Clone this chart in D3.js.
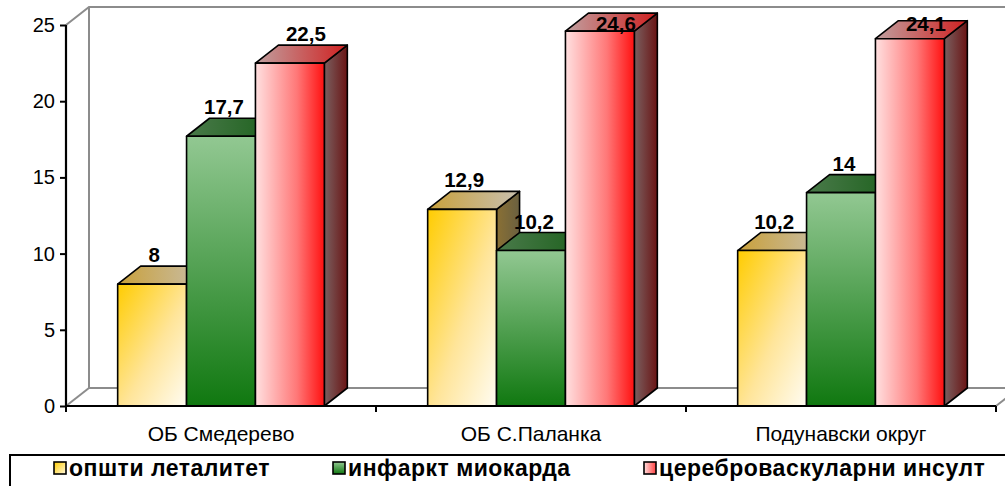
<!DOCTYPE html>
<html>
<head>
<meta charset="utf-8">
<script src="https://cdn.jsdelivr.net/npm/d3@7"></script>
<style>
  html, body { margin: 0; padding: 0; background: #fff; }
  svg { display: block; font-family: "Liberation Sans", Arial, sans-serif; }
</style>
</head>
<body>
<svg id="chart" width="1005" height="486"></svg>
<script>
// Categories, series and axis ticks
const categories = ["ОБ Смедерево", "ОБ С.Паланка", "Подунавски округ"];
const seriesNames = ["општи леталитет", "инфаркт миокарда", "цереброваскуларни инсулт"];
const opstiLetalitet = [8, 12.9, 10.2];
const infarktMiokarda = [17.7, 10.2, 14];
const cerebrovaskularniInsult = [22.5, 24.6, 24.1];
const yTicks = [0, 5, 10, 15, 20, 25];

const seriesValues = [opstiLetalitet, infarktMiokarda, cerebrovaskularniInsult];

const svg = d3.select("#chart");
const defs = svg.append("defs");

// Plot geometry
const plotLeft = 66, plotRight = 996, plotBase = 406, plotTop = 25;
const dx = 23, dy = 18; // depth of the 3D projection

const x0 = d3.scaleBand().domain(categories).range([plotLeft, plotRight]);
const x1 = d3.scaleBand().domain(d3.range(seriesNames.length))
  .range([0, x0.bandwidth()]).paddingOuter(0.75).paddingInner(0);
const y = d3.scaleLinear().domain([0, 25]).range([plotBase, plotTop]);

// Gradients for each series: front, top and side faces
function linGrad(id, gx1, gy1, gx2, gy2, stops) {
  const g = defs.append("linearGradient").attr("id", id)
    .attr("x1", gx1).attr("y1", gy1).attr("x2", gx2).attr("y2", gy2);
  stops.forEach(([o, c]) => g.append("stop").attr("offset", o).attr("stop-color", c));
}
linGrad("f0", "0%", "0%", "100%", "100%", [[0, "#ffcc00"], [0.55, "#ffe59a"], [1, "#fffcf2"]]);
linGrad("t0", "0%", "0%", "100%", "0%", [[0, "#c9a03a"], [1, "#c8c0b0"]]);
linGrad("s0", "0%", "0%", "100%", "0%", [[0, "#8a7034"], [1, "#6a6040"]]);
linGrad("f1", "0%", "0%", "0%", "100%", [[0, "#92c892"], [1, "#107810"]]);
linGrad("t1", "0%", "0%", "100%", "0%", [[0, "#4a7a4a"], [1, "#1c601c"]]);
linGrad("s1", "0%", "0%", "100%", "0%", [[0, "#3a5a3a"], [1, "#104010"]]);
linGrad("f2", "0%", "0%", "100%", "0%", [[0, "#ffe0e0"], [0.6, "#ff7878"], [1, "#ff1010"]]);
linGrad("t2", "0%", "0%", "100%", "0%", [[0, "#c0a0a0"], [1, "#d02020"]]);
linGrad("s2", "0%", "0%", "100%", "0%", [[0, "#7a6060"], [1, "#6a1414"]]);
linGrad("l0", "0%", "0%", "100%", "100%", [[0, "#ffcc00"], [1, "#fff8e0"]]);
linGrad("l1", "0%", "0%", "0%", "100%", [[0, "#92c892"], [1, "#107810"]]);
linGrad("l2", "0%", "0%", "100%", "0%", [[0, "#ffe0e0"], [1, "#ff4040"]]);

// Back wall and floor outline
const wall = svg.append("g").attr("stroke", "#8c8c8c").attr("stroke-width", 2).attr("fill", "none");
wall.append("path").attr("d",
  `M${plotLeft},${plotTop} L${plotLeft + dx},${plotTop - dy} L1005,${plotTop - dy}`);
wall.append("path").attr("d",
  `M${plotLeft + dx},${plotTop - dy} L${plotLeft + dx},${plotBase - dy} L1005,${plotBase - dy}`);
wall.append("path").attr("d",
  `M${plotLeft},${plotBase} L${plotLeft + dx},${plotBase - dy}`);
wall.append("path").attr("d",
  `M${plotRight},${plotBase} L${plotRight + dx},${plotBase - dy}`);

// Bars
const groups = svg.append("g").selectAll("g").data(categories).join("g")
  .attr("transform", d => `translate(${x0(d)},0)`);

groups.each(function (cat, ci) {
  const g = d3.select(this);
  seriesValues.forEach((vals, si) => {
    const v = vals[ci];
    const bx = x1(si), bw = x1.bandwidth(), by = y(v);
    const bar = g.append("g").attr("stroke", "#000").attr("stroke-width", 1.6)
      .attr("stroke-linejoin", "round");
    bar.append("polygon").attr("fill", `url(#s${si})`).attr("points",
      [[bx + bw, by], [bx + bw + dx, by - dy], [bx + bw + dx, plotBase - dy], [bx + bw, plotBase]].join(" "));
    bar.append("polygon").attr("fill", `url(#t${si})`).attr("points",
      [[bx, by], [bx + dx, by - dy], [bx + bw + dx, by - dy], [bx + bw, by]].join(" "));
    bar.append("rect").attr("fill", `url(#f${si})`)
      .attr("x", bx).attr("y", by).attr("width", bw).attr("height", plotBase - by);
  });
});

// Value labels
const labelShift = [2, 3, 16];
groups.each(function (cat, ci) {
  const g = d3.select(this);
  seriesValues.forEach((vals, si) => {
    const v = vals[ci];
    const cx = x1(si) + x1.bandwidth() / 2 + labelShift[si];
    const yy = Math.max(y(v) - dy - 4, 31);
    g.append("text").attr("x", cx).attr("y", yy)
      .attr("text-anchor", "middle").attr("font-weight", "bold")
      .attr("font-size", 20.5).attr("fill", "#000")
      .text(String(v).replace(".", ","));
  });
});

// Value axis
const yAxis = svg.append("g").attr("transform", `translate(${plotLeft},0)`)
  .call(d3.axisLeft(y).tickValues(yTicks).tickSize(6).tickPadding(5));
yAxis.select(".domain").attr("stroke", "#000").attr("stroke-width", 2.2)
  .attr("d", `M0,${plotTop}V${plotBase}`);
yAxis.selectAll(".tick line").attr("stroke", "#000").attr("stroke-width", 2);
yAxis.selectAll(".tick text").attr("font-size", 20).attr("fill", "#000")
  .attr("font-family", "Liberation Sans, Arial, sans-serif");

// Category axis
const xAxis = svg.append("g").attr("transform", `translate(0,${plotBase})`);
xAxis.append("line").attr("x1", plotLeft).attr("x2", plotRight).attr("stroke", "#000").attr("stroke-width", 2.2);
xAxis.selectAll(".ctick").data(d3.range(categories.length + 1)).join("line")
  .attr("x1", i => plotLeft + i * x0.step()).attr("x2", i => plotLeft + i * x0.step())
  .attr("y1", 0).attr("y2", 6).attr("stroke", "#000").attr("stroke-width", 2);
xAxis.selectAll(".clabel").data(categories).join("text")
  .attr("x", d => x0(d) + x0.bandwidth() / 2).attr("y", 35)
  .attr("text-anchor", "middle").attr("font-size", 21).attr("fill", "#000")
  .text(d => d);

// Legend
const legend = svg.append("g");
legend.append("rect").attr("x", 10).attr("y", 455).attr("width", 1005).attr("height", 40)
  .attr("fill", "#fff").attr("stroke", "#000").attr("stroke-width", 2);
const legendX = [54, 333, 644];
const items = legend.selectAll(".item").data(seriesNames).join("g")
  .attr("transform", (d, i) => `translate(${legendX[i]},462)`);
items.append("rect").attr("width", 12).attr("height", 12)
  .attr("fill", (d, i) => `url(#l${i})`).attr("stroke", "#000").attr("stroke-width", 1.6);
items.append("text").attr("x", 15).attr("y", 14).attr("font-weight", "bold")
  .attr("font-size", 23).attr("letter-spacing", 0.5).attr("fill", "#000").text(d => d);
</script>
</body>
</html>
